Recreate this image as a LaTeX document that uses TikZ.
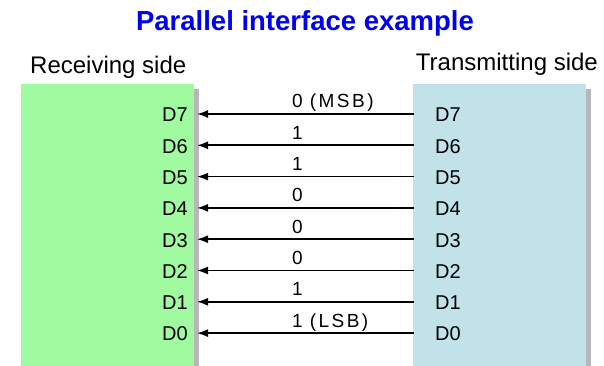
\documentclass[tikz,border=0pt]{standalone}
\usepackage{fontspec}
\setmainfont{Liberation Sans}
\usetikzlibrary{arrows.meta}
\definecolor{rxgreen}{RGB}{160,251,160}
\definecolor{txblue}{RGB}{193,226,233}
\definecolor{shadowgray}{RGB}{184,184,188}
\definecolor{titleblue}{RGB}{0,0,240}
\tikzset{
  sidebox/.style={inner sep=0pt, anchor=north west, minimum width=173pt, minimum height=282pt},
  shadowbar/.style={fill=shadowgray},
  dlabel/.style={font=\fontsize{20}{20}\selectfont, inner sep=0pt},
  bitlabel/.style={font=\fontsize{19}{19}\selectfont, inner sep=0pt, anchor=base west},
  heading/.style={font=\fontsize{24}{24}\selectfont, inner sep=0pt},
  titletext/.style={font=\bfseries\fontsize{27.5}{27.5}\selectfont, text=titleblue, inner sep=0pt},
  wire/.style={line width=1.7pt, -{Latex[length=11pt,width=8pt]}},
}
\newcommand{\gapA}{\hspace{7pt}}
\newcommand{\gapB}{\hspace{2.5pt}}
\begin{document}
\begin{tikzpicture}[x=1pt,y=-1pt]
\useasboundingbox[fill=white] (0,0) rectangle (604,366);
% shadows
\fill[shadowbar] (194,89) rectangle (199,366);
\fill[shadowbar] (586,89) rectangle (591,366);
% boxes
\node[sidebox, fill=rxgreen] (rxbox) at (21,84) {};
\node[sidebox, fill=txblue] (txbox) at (413,84) {};
% title and headings
\node[titletext] (title) at (305,23) {Parallel interface example};
\node[heading, anchor=base west] (rxhead) at (30,74) {Receiving side};
\node[heading, anchor=base east] (txhead) at (598,71) {Transmitting side};
% data lines
\foreach \i/\b in {7/{0\gapA(\gapB M\gapB S\gapB B\gapB)},6/1,5/1,4/0,3/0,2/0,1/1,0/{1\gapA(\gapB L\gapB S\gapB B\gapB)}}{
  \pgfmathsetmacro{\yy}{114+(7-\i)*31.3}
  \node[dlabel, anchor=east] (rd\i) at (188,\yy+1) {D\i};
  \node[dlabel, anchor=west] (td\i) at (435,\yy+1) {D\i};
  \coordinate (ts\i) at (414,\yy);
  \coordinate (re\i) at (197,\yy);
  \draw[wire] (ts\i) -- (re\i);
  \node[bitlabel] (bit\i) at (292,\yy-6) {\b};
}
\end{tikzpicture}
\end{document}
